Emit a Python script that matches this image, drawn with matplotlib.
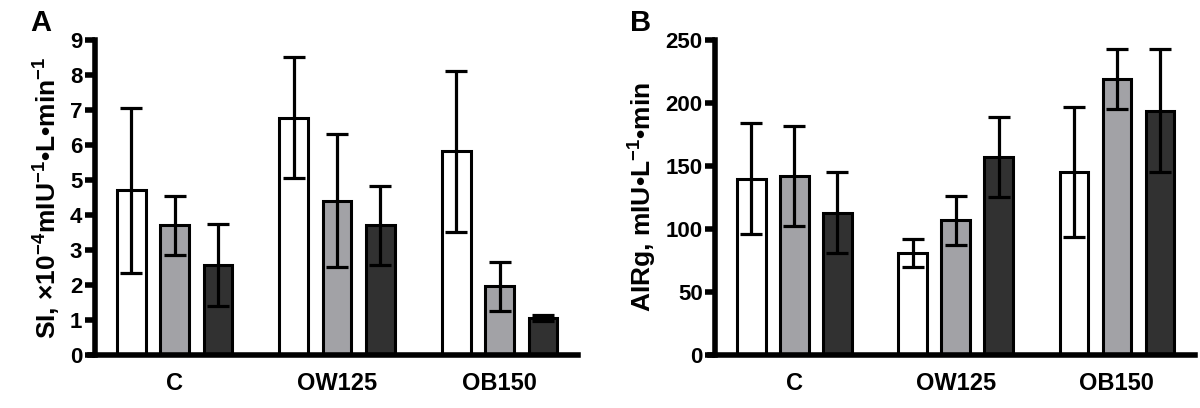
import numpy as np
import matplotlib
matplotlib.use("Agg")
import matplotlib.pyplot as plt

plt.rcParams['font.family'] = ['Liberation Sans', 'DejaVu Sans']
plt.rcParams['font.weight'] = 'bold'
plt.rcParams['mathtext.fontset'] = 'custom'
plt.rcParams['mathtext.bf'] = 'Liberation Sans:bold'
plt.rcParams['mathtext.rm'] = 'Liberation Sans:bold'
plt.rcParams['mathtext.default'] = 'bf'

groups = ['C', 'OW125', 'OB150']
colors = ['white', '#a2a2a6', '#313131']

# panel A: SI
si_mean = [[4.70, 3.70, 2.58], [6.78, 4.40, 3.70], [5.82, 1.96, 1.05]]
si_err = [[2.37, 0.84, 1.17], [1.72, 1.90, 1.14], [2.30, 0.69, 0.08]]

# panel B: AIRg
air_mean = [[140, 142, 113], [81, 107, 157], [145, 219, 194]]
air_err = [[44, 40, 32], [11, 19.5, 31.5], [51.5, 23.5, 49]]

fig = plt.figure(figsize=(12, 4.08), dpi=100)
axA = fig.add_axes([0.079, 0.130, 0.403, 0.772])
axB = fig.add_axes([0.596, 0.130, 0.400, 0.772])

centers = np.array([0, 3.75, 7.5])
offsets = [-1, 0, 1]


def draw(ax, means, errs, ymax, ystep, ylabel):
    means = np.array(means)
    errs = np.array(errs)
    for k in range(3):
        ax.bar(centers + offsets[k], means[:, k], width=0.66, color=colors[k],
               edgecolor='black', linewidth=2.2, zorder=2)
        ax.errorbar(centers + offsets[k], means[:, k], yerr=errs[:, k], fmt='none',
                    ecolor='black', elinewidth=2.3, capsize=8, capthick=2.3, zorder=3)
    ax.set_xlim(-1.84, 9.32)
    ax.set_ylim(0, ymax)
    ax.set_yticks(np.arange(0, ymax + ystep / 2, ystep))
    ax.set_xticks(centers)
    ax.set_xticklabels(groups)
    ax.spines['top'].set_visible(False)
    ax.spines['right'].set_visible(False)
    ax.spines['left'].set_linewidth(4)
    ax.spines['bottom'].set_linewidth(4)
    ax.spines['bottom'].set_bounds(-1.95, 9.32)
    ax.tick_params(axis='y', width=4, length=7, labelsize=16, pad=2)
    ax.tick_params(axis='x', length=0, labelsize=17, pad=12)
    for t in ax.get_yticklabels() + ax.get_xticklabels():
        t.set_fontweight('bold')
    ax.set_ylabel(ylabel, fontsize=19, fontweight='bold', labelpad=5)


draw(axA, si_mean, si_err, 9, 1,
     'SI, ×10$^{-4}$mIU$^{-1}$•L•min$^{-1}$')
draw(axB, air_mean, air_err, 250, 50,
     'AIRg, mIU•L$^{-1}$•min')

fig.text(0.025, 0.925, 'A', fontsize=21, fontweight='bold')
fig.text(0.525, 0.925, 'B', fontsize=21, fontweight='bold')

fig.savefig('out.png', dpi=100)
